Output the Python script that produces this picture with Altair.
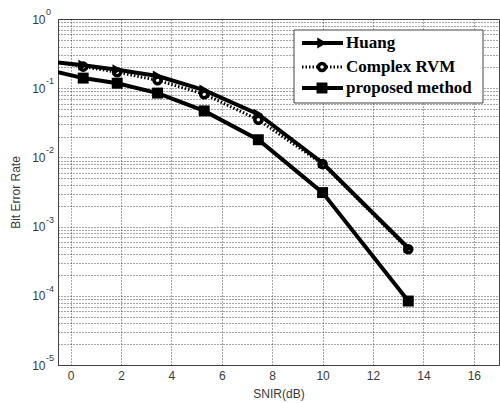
import altair as alt
import pandas as pd

# ---- data ----
snir_line = [-0.5, 0.5, 1.85, 3.45, 5.3, 7.45, 10.0, 13.4]
huang = [0.235, 0.215, 0.185, 0.15, 0.094, 0.042, 0.0083, 0.00049]
rvm = [0.235, 0.205, 0.17, 0.13, 0.082, 0.035, 0.0080, 0.00047]
proposed = [0.17, 0.14, 0.118, 0.085, 0.047, 0.018, 0.0031, 0.000084]
series_names = ["Huang", "Complex RVM", "proposed method"]

x_ticks = [0, 2, 4, 6, 8, 10, 12, 14, 16]
decades = [1, 1e-1, 1e-2, 1e-3, 1e-4, 1e-5]
exponents = ["0", "-1", "-2", "-3", "-4", "-5"]
minor_grid = [k * 10.0 ** e for e in range(-5, 0) for k in range(1, 10)] + [1.0]

rows = []
for name, vals in zip(series_names, [huang, rvm, proposed]):
    for i, (x, v) in enumerate(zip(snir_line, vals)):
        rows.append({"series": name, "snir": x, "ber": v, "marker": i > 0, "order": i})
df = pd.DataFrame(rows)

xscale = alt.Scale(domain=[-0.5, 17], nice=False, zero=False)
yscale = alt.Scale(type="log", domain=[1e-5, 1], nice=False)

LABEL_FONT = "Liberation Sans"
GRAY = "#3a3a3a"

xaxis = alt.Axis(
    values=x_ticks, grid=True, gridDash=[1, 2], gridColor="#222", gridOpacity=0.8,
    ticks=False, labelFont=LABEL_FONT, labelFontSize=12, labelColor=GRAY,
    labelPadding=5, domainColor="#444", title="SNIR(dB)", titleFont=LABEL_FONT,
    titleFontSize=12, titleFontWeight="normal", titleColor=GRAY,
    titleY=28, titleBaseline="middle",
)
yaxis = alt.Axis(
    values=minor_grid, grid=True, gridDash=[1, 2], gridColor="#222", gridOpacity=0.8,
    ticks=False, labelFont=LABEL_FONT, labelFontSize=12, labelColor=GRAY,
    labelPadding=13, domainColor="#444",
    labelExpr="abs(log(datum.value)/LN10 - round(log(datum.value)/LN10)) < 0.001 ? '10' : ''",
    title="Bit Error Rate", titleFont=LABEL_FONT, titleFontSize=12,
    titleFontWeight="normal", titleColor=GRAY, titleX=-43, titleY=173,
    titleBaseline="middle", titleAlign="center", labelOverlap=False,
)

base = alt.Chart(df).encode(
    x=alt.X("snir:Q", scale=xscale, axis=xaxis),
    y=alt.Y("ber:Q", scale=yscale, axis=yaxis),
    order="order:Q",
)

def series(name):
    return base.transform_filter(alt.datum.series == name)

rvm_line = series("Complex RVM").mark_line(color="black", strokeWidth=3, strokeDash=[1.5, 2], clip=True)
huang_line = series("Huang").mark_line(color="black", strokeWidth=4, clip=True)
prop_line = series("proposed method").mark_line(color="black", strokeWidth=4, clip=True)

huang_pts = series("Huang").transform_filter(alt.datum.marker).mark_point(
    shape="triangle-right", filled=True, color="black", size=120, opacity=1)
rvm_pts = series("Complex RVM").transform_filter(alt.datum.marker).mark_point(
    shape="circle", filled=False, color="black", strokeWidth=3.5, size=50, opacity=1, fill="white")
prop_pts = series("proposed method").transform_filter(alt.datum.marker).mark_point(
    shape="square", filled=True, color="black", size=120, opacity=1)

exp_df = pd.DataFrame({"ber": decades, "exp": exponents})
exp_text = alt.Chart(exp_df).mark_text(
    align="left", baseline="middle", dy=-7, fontSize=9, font=LABEL_FONT, color=GRAY
).encode(x=alt.value(-12), y=alt.Y("ber:Q", scale=yscale), text="exp:N")

# ---- legend (layout only) ----
one = pd.DataFrame({"k": [0]})
legend_layers = [
    alt.Chart(one).mark_rect(fill="white", stroke="#444", strokeWidth=1).encode(
        x=alt.value(236), x2=alt.value(425), y=alt.value(11), y2=alt.value(84))
]
leg_rows = [
    ("Huang", 24, dict(strokeWidth=4), dict(shape="triangle-right", filled=True, size=120)),
    ("Complex RVM", 48, dict(strokeWidth=3, strokeDash=[1.5, 2]),
     dict(shape="circle", filled=False, fill="white", strokeWidth=3.5, size=50)),
    ("proposed method", 69, dict(strokeWidth=4), dict(shape="square", filled=True, size=120)),
]
for name, yy, lstyle, pstyle in leg_rows:
    d = pd.DataFrame({"label": [name]})
    legend_layers.append(alt.Chart(d).mark_rule(color="black", **lstyle).encode(
        x=alt.value(244), x2=alt.value(285), y=alt.value(yy)))
    legend_layers.append(alt.Chart(d).mark_point(color="black", opacity=1, **pstyle).encode(
        x=alt.value(264), y=alt.value(yy)))
    legend_layers.append(alt.Chart(d).mark_text(
        align="left", baseline="middle", font="Liberation Serif", fontSize=17,
        fontWeight="bold", color="black").encode(
        x=alt.value(288), y=alt.value(yy), text="label:N"))

chart = alt.layer(
    rvm_line, huang_line, prop_line, rvm_pts, huang_pts, prop_pts, exp_text, *legend_layers
).properties(
    width=441, height=346,
    autosize=alt.AutoSizeParams(type="none"),
    padding={"left": 58, "top": 19, "right": 1, "bottom": 38},
    background="white",
).configure_view(stroke="#444", strokeWidth=1)

chart.save("out.html", embed_options={"renderer": "svg", "actions": False})
